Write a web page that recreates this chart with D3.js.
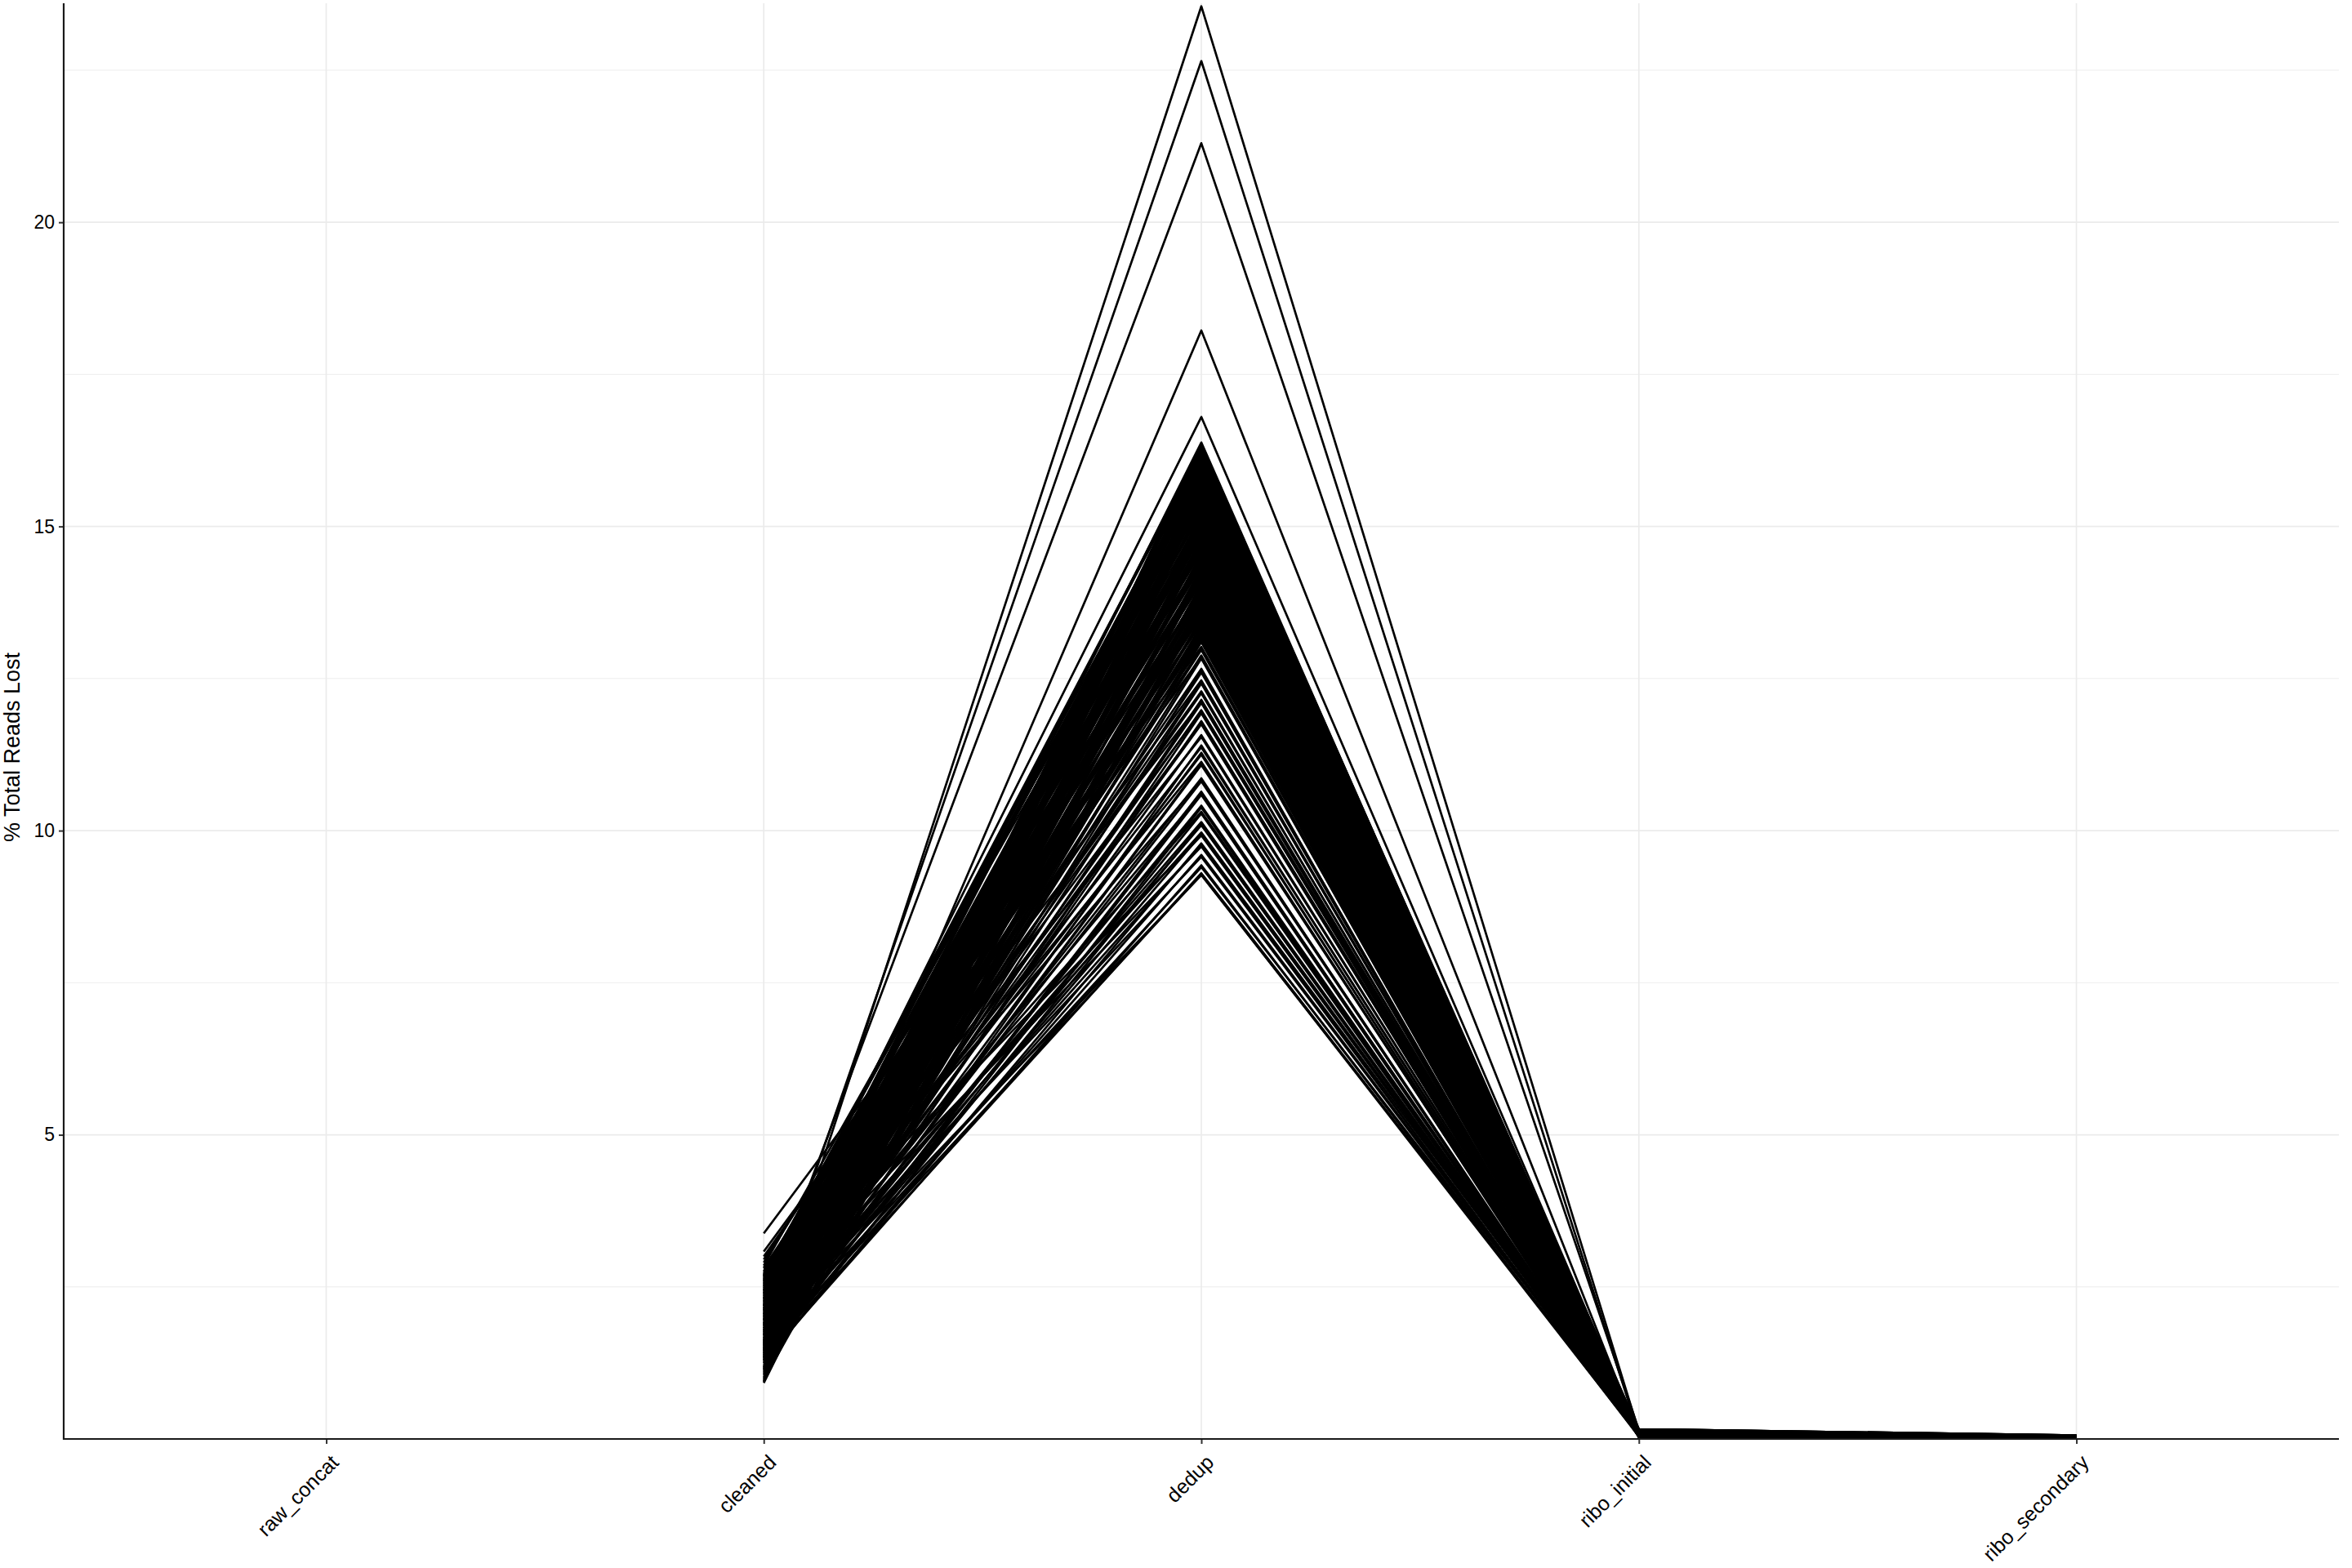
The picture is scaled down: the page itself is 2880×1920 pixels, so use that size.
<!DOCTYPE html>
<html>
<head>
<meta charset="utf-8">
<script src="https://cdn.jsdelivr.net/npm/d3@7"></script>
<style>
  body { margin: 0; background: #fff; }
  text { font-family: "Liberation Sans", Arial, Helvetica, sans-serif; fill: #000; }
</style>
</head>
<body>
<svg id="chart" width="2880" height="1920"></svg>
<script>
// pipeline steps (x categories)
const steps = ["raw_concat", "cleaned", "dedup", "ribo_initial", "ribo_secondary"];
const yTicks = [5, 10, 15, 20];
const yMinor = [2.5, 7.5, 12.5, 17.5, 22.5];

// % total reads lost per sample at each step (raw_concat has no value)
const cleaned = [
  1.62, 1.95, 2.18, 1.48, 2.42, 2.05, 1.10, 2.55, 1.72, 0.95,
  2.30, 1.40, 2.62, 1.85, 1.02, 2.12, 2.70, 1.55, 1.25, 2.48,
  2.85, 1.78, 0.92, 2.22, 1.66, 2.58, 1.15, 2.00, 2.74, 1.32,
  1.90, 2.38, 1.05, 2.66, 1.58, 2.15, 1.20, 2.90, 1.82, 2.45,
  1.45, 2.28, 1.08, 2.60, 1.70, 2.95, 1.35, 2.08, 0.98, 2.52,
  1.76, 2.35, 1.18, 2.68, 1.52, 2.20, 3.00, 1.88, 1.28, 3.38,
  2.40, 1.60, 3.08, 2.10, 1.38, 2.72, 1.95, 2.25, 1.50, 2.80,
  1.84, 2.32, 1.42, 2.05, 1.68, 2.50, 1.30, 2.18, 1.58, 1.92,
  2.28, 1.48, 1.75, 2.42, 1.36, 2.02, 1.62, 1.22, 2.12, 1.44,
  1.80, 1.34, 1.96, 1.52, 1.26, 1.68, 1.40, 1.86, 1.30, 1.56,
  1.38, 1.72, 1.48,
  1.12, 2.60, 1.58, 2.20, 0.97, 1.88, 2.44, 1.30, 2.68, 1.74,
  2.02, 1.18, 2.52, 1.46, 2.30, 0.94, 1.96, 2.64, 1.38, 2.12,
  1.64, 2.40, 1.06, 2.76, 1.80, 2.24, 1.28, 2.56, 1.52, 2.08,
  2.34, 1.16, 2.70, 1.70, 2.46, 1.00, 1.92, 2.62, 1.44, 2.16,
  1.86, 2.50, 1.24, 2.26, 1.60, 2.82, 1.34, 2.04, 2.58, 1.50,
  2.36, 1.78, 2.66, 1.40, 2.14, 1.94, 2.54, 1.56, 2.32, 1.82,
  2.44, 1.62, 2.10, 1.46, 2.38, 1.72, 2.22, 1.54, 1.98, 2.06,
  1.66, 2.26, 1.48, 1.90, 2.18, 1.42, 2.00, 1.58, 1.76, 2.14,
  1.50, 1.88, 1.32, 1.70, 1.44, 2.04, 1.56, 1.36, 1.82, 1.46,
  1.60, 1.34, 1.64, 2.48, 2.20, 1.14, 1.96, 1.54, 2.30, 1.78
];
const dedup = [
  23.55, 22.65, 21.30, 18.22, 16.80, 16.38, 16.31, 16.25, 16.19, 16.14,
  16.09, 16.05, 15.99, 15.94, 15.88, 15.85, 15.80, 15.76, 15.70, 15.64,
  15.55, 15.50, 15.44, 15.38, 15.31, 15.25, 15.19, 15.12, 15.06, 15.00,
  14.93, 14.87, 14.80, 14.74, 14.67, 14.61, 14.55, 14.48, 14.41, 14.35,
  14.28, 14.21, 14.15, 14.08, 14.02, 13.95, 13.89, 13.83, 13.77, 13.70,
  13.64, 13.57, 13.50, 13.43, 13.37, 13.30, 13.22, 13.16, 13.13, 13.02,
  12.99, 12.88, 12.85, 12.66, 12.63, 12.47, 12.44, 12.29, 12.15, 12.12,
  11.98, 11.95, 11.80, 11.77, 11.57, 11.54, 11.40, 11.37, 11.28, 11.25,
  11.13, 11.10, 10.86, 10.83, 10.64, 10.61, 10.41, 10.38, 10.31, 10.28,
  10.14, 10.11, 9.97, 9.94, 9.79, 9.76, 9.60, 9.57, 9.43, 9.40,
  9.30, 9.27, 9.28,
  16.35, 16.28, 16.22, 16.16, 16.11, 16.02, 15.97, 15.91, 15.82, 15.73,
  15.67, 15.60, 15.52, 15.47, 15.41, 15.35, 15.28, 15.22, 15.15, 15.09,
  15.03, 14.97, 14.90, 14.84, 14.77, 14.70, 14.64, 14.58, 14.51, 14.44,
  14.38, 14.32, 14.25, 14.18, 14.12, 14.05, 13.98, 13.92, 13.86, 13.80,
  13.74, 13.67, 13.60, 13.53, 13.46, 13.40, 13.33, 13.26, 13.18, 13.10,
  16.33, 16.20, 16.07, 15.90, 15.78, 15.62, 15.45, 15.33, 15.17, 15.04,
  14.91, 14.79, 14.66, 14.53, 14.40, 14.30, 14.16, 14.03, 13.90, 13.79,
  13.68, 13.55, 13.45, 13.34, 13.24, 16.27, 15.95, 15.40, 14.85, 14.20,
  13.11, 12.97, 12.83, 12.60, 12.42, 12.26, 12.10, 11.93, 11.75, 11.08,
  10.81, 10.59, 10.09, 9.92, 9.74, 14.72, 13.85, 15.10, 14.45, 13.60
];
const riboInitial = [
  0.12, 0.08, 0.15, 0.05, 0.10, 0.07, 0.13, 0.04, 0.09, 0.11,
  0.06, 0.14, 0.03, 0.10, 0.08, 0.12, 0.05, 0.09, 0.16, 0.07,
  0.11, 0.04, 0.13, 0.08, 0.06, 0.10, 0.15, 0.03, 0.09, 0.12,
  0.07, 0.11, 0.05, 0.14, 0.08, 0.10, 0.06, 0.13, 0.04, 0.09,
  0.12, 0.07, 0.15, 0.05, 0.10, 0.08, 0.11, 0.03, 0.14, 0.06,
  0.09, 0.13, 0.04, 0.11, 0.07, 0.16, 0.05, 0.10, 0.08, 0.12,
  0.06, 0.14, 0.09, 0.03, 0.11, 0.07, 0.13, 0.05, 0.10, 0.08,
  0.15, 0.04, 0.12, 0.06, 0.09, 0.11, 0.07, 0.14, 0.05, 0.10,
  0.08, 0.13, 0.03, 0.11, 0.06, 0.12, 0.09, 0.04, 0.15, 0.07,
  0.10, 0.05, 0.12, 0.08, 0.14, 0.06, 0.11, 0.09, 0.04, 0.13,
  0.07, 0.10, 0.05,
  0.09, 0.13, 0.06, 0.11, 0.15, 0.04, 0.10, 0.12, 0.07, 0.14,
  0.05, 0.11, 0.08, 0.13, 0.03, 0.10, 0.16, 0.06, 0.12, 0.09,
  0.14, 0.07, 0.11, 0.04, 0.13, 0.08, 0.10, 0.15, 0.05, 0.12,
  0.09, 0.06, 0.14, 0.11, 0.03, 0.13, 0.08, 0.10, 0.07, 0.15,
  0.12, 0.04, 0.09, 0.14, 0.06, 0.11, 0.13, 0.05, 0.10, 0.08,
  0.15, 0.07, 0.12, 0.03, 0.11, 0.09, 0.14, 0.06, 0.13, 0.10,
  0.05, 0.12, 0.08, 0.15, 0.04, 0.11, 0.07, 0.13, 0.09, 0.16,
  0.06, 0.10, 0.14, 0.08, 0.12, 0.05, 0.11, 0.03, 0.13, 0.09,
  0.07, 0.15, 0.10, 0.06, 0.12, 0.14, 0.04, 0.11, 0.08, 0.13,
  0.09, 0.05, 0.12, 0.10, 0.07, 0.14, 0.06, 0.11, 0.15, 0.08
];
const riboSecondary = [
  0.04, 0.02, 0.05, 0.01, 0.03, 0.02, 0.04, 0.01, 0.03, 0.04,
  0.02, 0.05, 0.01, 0.03, 0.02, 0.04, 0.01, 0.03, 0.06, 0.02,
  0.03, 0.01, 0.04, 0.02, 0.02, 0.03, 0.05, 0.01, 0.03, 0.04,
  0.02, 0.04, 0.01, 0.05, 0.03, 0.03, 0.02, 0.04, 0.01, 0.03,
  0.04, 0.02, 0.05, 0.01, 0.03, 0.02, 0.04, 0.01, 0.05, 0.02,
  0.03, 0.04, 0.01, 0.04, 0.02, 0.06, 0.01, 0.03, 0.02, 0.04,
  0.02, 0.05, 0.03, 0.01, 0.04, 0.02, 0.04, 0.01, 0.03, 0.02,
  0.05, 0.01, 0.04, 0.02, 0.03, 0.04, 0.02, 0.05, 0.01, 0.03,
  0.02, 0.04, 0.01, 0.04, 0.02, 0.04, 0.03, 0.01, 0.05, 0.02,
  0.03, 0.01, 0.04, 0.02, 0.05, 0.02, 0.04, 0.03, 0.01, 0.04,
  0.02, 0.03, 0.01,
  0.03, 0.05, 0.02, 0.04, 0.05, 0.01, 0.03, 0.04, 0.02, 0.05,
  0.01, 0.04, 0.03, 0.05, 0.01, 0.03, 0.06, 0.02, 0.04, 0.03,
  0.05, 0.02, 0.04, 0.01, 0.05, 0.03, 0.03, 0.05, 0.02, 0.04,
  0.03, 0.02, 0.05, 0.04, 0.01, 0.04, 0.03, 0.03, 0.02, 0.05,
  0.04, 0.01, 0.03, 0.05, 0.02, 0.04, 0.04, 0.02, 0.03, 0.03,
  0.05, 0.02, 0.04, 0.01, 0.04, 0.03, 0.05, 0.02, 0.04, 0.03,
  0.02, 0.04, 0.03, 0.05, 0.01, 0.04, 0.02, 0.04, 0.03, 0.06,
  0.02, 0.03, 0.05, 0.03, 0.04, 0.02, 0.04, 0.01, 0.04, 0.03,
  0.02, 0.05, 0.03, 0.02, 0.04, 0.05, 0.01, 0.04, 0.03, 0.04,
  0.03, 0.02, 0.04, 0.03, 0.02, 0.05, 0.02, 0.04, 0.05, 0.03
];

// one path per sample
const samples = cleaned.map((c, i) => [
  { step: "cleaned", value: c },
  { step: "dedup", value: dedup[i] },
  { step: "ribo_initial", value: riboInitial[i] },
  { step: "ribo_secondary", value: riboSecondary[i] }
]);

const panel = { left: 78, right: 2864, top: 4, bottom: 1762 };
const fontStack = "'Liberation Sans', Arial, Helvetica, sans-serif";

const svg = d3.select("#chart");

const x = d3.scalePoint()
  .domain(steps)
  .range([panel.left, panel.right])
  .padding(0.6);

const y = d3.scaleLinear()
  .domain([0, 23.6])
  .range([panel.bottom, panel.top]);

// grid
const grid = svg.append("g");
grid.selectAll(".minor")
  .data(yMinor)
  .enter().append("line")
  .attr("x1", panel.left).attr("x2", panel.right)
  .attr("y1", d => y(d)).attr("y2", d => y(d))
  .attr("stroke", "#ebebeb")
  .attr("stroke-width", 0.9);
grid.selectAll(".major")
  .data(yTicks)
  .enter().append("line")
  .attr("x1", panel.left).attr("x2", panel.right)
  .attr("y1", d => y(d)).attr("y2", d => y(d))
  .attr("stroke", "#ebebeb")
  .attr("stroke-width", 1.7);
grid.selectAll(".vert")
  .data(steps)
  .enter().append("line")
  .attr("x1", d => x(d)).attr("x2", d => x(d))
  .attr("y1", panel.top).attr("y2", panel.bottom)
  .attr("stroke", "#ebebeb")
  .attr("stroke-width", 1.7);

// clip lines to the panel
svg.append("clipPath").attr("id", "panel")
  .append("rect")
  .attr("x", panel.left).attr("y", panel.top)
  .attr("width", panel.right - panel.left).attr("height", panel.bottom - panel.top);

const line = d3.line()
  .x(d => x(d.step))
  .y(d => y(d.value));

svg.append("g")
  .attr("clip-path", "url(#panel)")
  .selectAll("path")
  .data(samples)
  .enter().append("path")
  .attr("d", line)
  .attr("fill", "none")
  .attr("stroke", "#000")
  .attr("stroke-width", 2.7)
  .attr("stroke-linejoin", "round");

// y axis
const yAxis = svg.append("g")
  .attr("transform", `translate(${panel.left},0)`)
  .call(d3.axisLeft(y).tickValues(yTicks).tickSize(6).tickPadding(5));
yAxis.select(".domain").remove();
yAxis.selectAll(".tick line").attr("stroke", "#333").attr("stroke-width", 2);
yAxis.selectAll(".tick text")
  .style("font-size", "23px")
  .style("font-family", fontStack)
  .attr("fill", "#000");

// x axis
const xAxis = svg.append("g")
  .attr("transform", `translate(0,${panel.bottom})`)
  .call(d3.axisBottom(x).tickSize(6));
xAxis.select(".domain").remove();
xAxis.selectAll(".tick line").attr("stroke", "#333").attr("stroke-width", 2);
xAxis.selectAll(".tick text")
  .attr("x", 0).attr("y", 0)
  .attr("dy", "0.75em")
  .attr("text-anchor", "end")
  .attr("transform", "translate(3,17) rotate(-45)")
  .style("font-size", "25px")
  .style("font-family", fontStack)
  .attr("fill", "#000");

// axis lines
svg.append("line")
  .attr("x1", panel.left).attr("x2", panel.left)
  .attr("y1", panel.top).attr("y2", panel.bottom + 1)
  .attr("stroke", "#1a1a1a").attr("stroke-width", 2.2);
svg.append("line")
  .attr("x1", panel.left - 1).attr("x2", panel.right)
  .attr("y1", panel.bottom).attr("y2", panel.bottom)
  .attr("stroke", "#1a1a1a").attr("stroke-width", 2.2);

// y axis title
svg.append("text")
  .attr("transform", "translate(24,915) rotate(-90)")
  .attr("text-anchor", "middle")
  .style("font-size", "27px")
  .style("font-family", fontStack)
  .text("% Total Reads Lost");
</script>
</body>
</html>
